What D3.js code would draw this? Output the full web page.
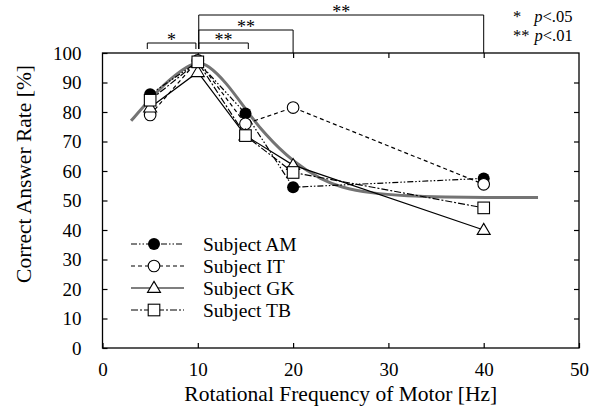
<!DOCTYPE html>
<html>
<head>
<meta charset="utf-8">
<script src="https://cdn.jsdelivr.net/npm/d3@7"></script>
<style>
  body { margin: 0; background: #fff; }
  text { font-family: "Liberation Serif", "Times New Roman", serif; fill: #000; }
</style>
</head>
<body>
<script>
// data
const freqs = [5, 10, 15, 20, 40];
const subjectAM = [86, 97, 79.5, 54.5, 57.5];
const subjectIT = [79, 97.5, 76, 81.5, 55.5];
const subjectGK = [81.5, 93.5, 72, 62, 40];
const subjectTB = [84, 97, 72, 59.5, 47.5];
const fitX = [3, 5, 7, 9, 10, 11, 13, 15, 17, 20, 23, 25, 28, 32, 36, 40, 45.7];
const fitY = [77, 84.5, 91, 95.8, 96.8, 96.2, 90, 81, 72.5, 63, 57, 54.5, 52.5, 51.5, 51.2, 51, 51];
const xTicks = [0, 10, 20, 30, 40, 50];
const yTicks = [0, 10, 20, 30, 40, 50, 60, 70, 80, 90, 100];
const brackets = [
  { from: 4.7, to: 9.8, level: 0, label: "*", drop: 0 },
  { from: 10.1, to: 15.3, level: 0, label: "**", drop: 0 },
  { from: 10.1, to: 20, level: 1, label: "**", drop: 1 },
  { from: 10.1, to: 40, level: 2, label: "**", drop: 1 }
];
const pKey = [
  { stars: "*", rest: "<.05" },
  { stars: "**", rest: "<.01" }
];

const series = [
  { name: "Subject AM", values: subjectAM, dash: "6,2,1.5,2,1.5,2", marker: "filled" },
  { name: "Subject IT", values: subjectIT, dash: "4,3", marker: "circle" },
  { name: "Subject GK", values: subjectGK, dash: null, marker: "triangle" },
  { name: "Subject TB", values: subjectTB, dash: "7,2,2,2", marker: "square" }
];

const width = 595, height = 414;
const margin = { left: 102.5, right: 16, top: 53, bottom: 66 };

const svg = d3.select("body").append("svg")
  .attr("width", width)
  .attr("height", height);

const x = d3.scaleLinear().domain([0, 50]).range([margin.left, width - margin.right]);
const y = d3.scaleLinear().domain([0, 100]).range([height - margin.bottom, margin.top]);

const tk = 5;
// frame
svg.append("rect")
  .attr("x", x(0)).attr("y", y(100))
  .attr("width", x(50) - x(0)).attr("height", y(0) - y(100))
  .attr("fill", "none").attr("stroke", "#000").attr("stroke-width", 1.3);

// inward ticks on all four sides
const gx = svg.append("g").attr("transform", `translate(0,${y(0)})`)
  .call(d3.axisBottom(x).tickValues(xTicks).tickSizeInner(-tk).tickSizeOuter(0).tickPadding(15));
const gy = svg.append("g").attr("transform", `translate(${x(0)},0)`)
  .call(d3.axisLeft(y).tickValues(yTicks).tickSizeInner(-tk).tickSizeOuter(0).tickPadding(21));
svg.append("g").attr("transform", `translate(${x(50)},0)`)
  .call(d3.axisRight(y).tickValues(yTicks.slice(1, -1)).tickSizeInner(-tk).tickSizeOuter(0).tickFormat(""));
svg.append("g").attr("transform", `translate(0,${y(100)})`)
  .call(d3.axisTop(x).tickValues(xTicks.slice(1, -1)).tickSizeInner(-tk).tickSizeOuter(0).tickFormat(""));

svg.selectAll(".domain").remove();
svg.selectAll(".tick line").attr("stroke", "#000").attr("stroke-width", 1.2);
svg.selectAll(".tick text")
  .style("font-family", "'Liberation Serif', serif")
  .style("font-size", "19px")
  .attr("fill", "#000");
gy.selectAll(".tick text").attr("x", -21);

// axis titles
svg.append("text")
  .attr("x", (x(0) + x(50)) / 2).attr("y", 401)
  .attr("text-anchor", "middle")
  .style("font-size", "21.5px")
  .text("Rotational Frequency of Motor [Hz]");
svg.append("text")
  .attr("transform", "translate(31,174) rotate(-90)")
  .attr("text-anchor", "middle")
  .style("font-size", "21.5px")
  .text("Correct Answer Rate [%]");

// fitted curve
const fitLine = d3.line().x(d => x(d[0])).y(d => y(d[1])).curve(d3.curveBasis);
svg.append("path")
  .datum(d3.zip(fitX, fitY))
  .attr("d", fitLine)
  .attr("fill", "none")
  .attr("stroke", "#747474")
  .attr("stroke-width", 3);

// subject lines
const line = d3.line().x(d => x(d[0])).y(d => y(d[1]));
series.forEach(s => {
  svg.append("path")
    .datum(d3.zip(freqs, s.values))
    .attr("d", line)
    .attr("fill", "none")
    .attr("stroke", "#000")
    .attr("stroke-width", 1.2)
    .attr("stroke-dasharray", s.dash);
});

function drawMarker(g, type, cx, cy) {
  if (type === "filled") {
    g.append("circle").attr("cx", cx).attr("cy", cy).attr("r", 6).attr("fill", "#000");
  } else if (type === "circle") {
    g.append("circle").attr("cx", cx).attr("cy", cy).attr("r", 5.8)
      .attr("fill", "#fff").attr("stroke", "#000").attr("stroke-width", 1.1);
  } else if (type === "triangle") {
    const h = 11, w = 13;
    g.append("path")
      .attr("d", `M${cx},${cy - h * 0.6}L${cx + w / 2},${cy + h * 0.4}L${cx - w / 2},${cy + h * 0.4}Z`)
      .attr("fill", "#fff").attr("stroke", "#000").attr("stroke-width", 1.1);
  } else {
    g.append("rect").attr("x", cx - 5.8).attr("y", cy - 5.8).attr("width", 11.6).attr("height", 11.6)
      .attr("fill", "#fff").attr("stroke", "#000").attr("stroke-width", 1.1);
  }
}

const markers = svg.append("g");
series.forEach(s => {
  freqs.forEach((f, i) => drawMarker(markers, s.marker, x(f), y(s.values[i])));
});

// legend
const legend = svg.append("g");
series.forEach((s, i) => {
  const ly = 244 + i * 22;
  legend.append("line")
    .attr("x1", 131).attr("x2", 184).attr("y1", ly).attr("y2", ly)
    .attr("stroke", "#000").attr("stroke-width", 1.1)
    .attr("stroke-dasharray", s.dash);
  drawMarker(legend, s.marker, 154, ly);
  legend.append("text")
    .attr("x", 203).attr("y", ly + 7)
    .style("font-size", "19.5px")
    .text(s.name);
});

// significance brackets
const levelY = [43, 30, 15];
brackets.forEach(b => {
  const by = levelY[b.level];
  const endY = b.drop ? y(100) : 49;
  svg.append("path")
    .attr("d", `M${x(b.from)},49V${by}H${x(b.to)}V${endY}`)
    .attr("fill", "none")
    .attr("stroke", "#000")
    .attr("stroke-width", 1);
  svg.append("text")
    .attr("x", (x(b.from) + x(b.to)) / 2)
    .attr("y", by + 3)
    .attr("text-anchor", "middle")
    .style("font-size", "18px")
    .text(b.label);
});

// p-value key
pKey.forEach((k, i) => {
  const t = svg.append("text")
    .attr("x", 513).attr("y", 22 + i * 19)
    .style("font-size", "16.5px");
  t.append("tspan").text(k.stars);
  t.append("tspan").attr("dx", i === 0 ? 13 : 5).style("font-style", "italic").text("p");
  t.append("tspan").text(k.rest);
});
</script>
</body>
</html>
